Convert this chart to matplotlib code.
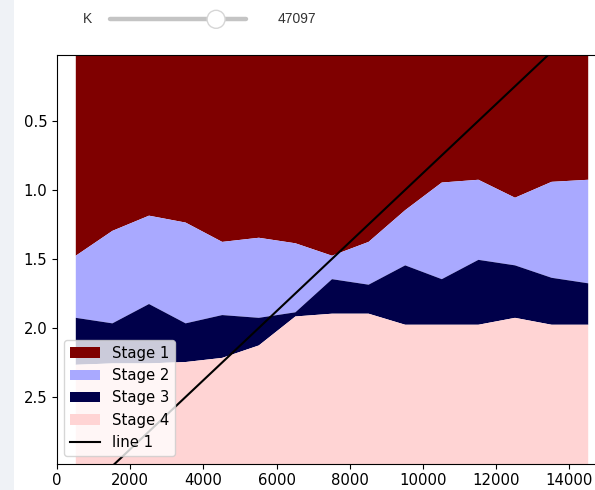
import matplotlib
matplotlib.use("Agg")
import matplotlib.pyplot as plt
from matplotlib.patches import Rectangle, Circle
from matplotlib.lines import Line2D

# Sample positions
x = [500, 1500, 2500, 3500, 4500, 5500, 6500, 7500,
     8500, 9500, 10500, 11500, 12500, 13500, 14500]

# Cumulative stage boundaries (depth axis, increasing downward)
stage1_bottom = [1.47, 1.29, 1.18, 1.23, 1.37, 1.34, 1.38, 1.47,
                 1.37, 1.14, 0.94, 0.92, 1.05, 0.935, 0.92]
stage2_bottom = [1.92, 1.96, 1.82, 1.96, 1.90, 1.92, 1.88, 1.64,
                 1.68, 1.54, 1.64, 1.50, 1.54, 1.63, 1.67]
stage3_bottom = [2.26, 2.25, 2.25, 2.24, 2.21, 2.12, 1.91, 1.89,
                 1.89, 1.97, 1.97, 1.97, 1.92, 1.97, 1.97]
depth_top = 0.0
depth_bottom = 3.0

stage_labels = ["Stage 1", "Stage 2", "Stage 3", "Stage 4"]
stage_colors = ["#7f0000", "#a9a9ff", "#00004a", "#ffd4d4"]

# Reference line
line_x = [1500, 13500]
line_y = [3.0, 0.0]

# Slider state
slider_name = "K"
slider_value = 47097
slider_fraction = 0.78

W, H = 595, 490
fig = plt.figure(figsize=(W / 100, H / 100), dpi=100)
fig.patch.set_facecolor("white")

# Light panel edge on the left
fig.patches.append(Rectangle((0, 0), 14 / W, 1, transform=fig.transFigure,
                             facecolor="#eff2f6", edgecolor="none", zorder=0))

ax = fig.add_axes([57 / W, (H - 463.7) / H, 549 / W, (463.7 - 55) / H])

bounds = [[depth_top] * len(x), stage1_bottom, stage2_bottom,
          stage3_bottom, [depth_bottom] * len(x)]
for i, (lab, col) in enumerate(zip(stage_labels, stage_colors)):
    ax.fill_between(x, bounds[i], bounds[i + 1], color=col, label=lab,
                    linewidth=0)

ax.plot(line_x, line_y, color="black", linewidth=1.5, label="line 1")

ax.set_xlim(0, 15000)
ax.set_ylim(2.98, 0.02)
ax.set_xticks([0, 2000, 4000, 6000, 8000, 10000, 12000, 14000])
ax.set_yticks([0.5, 1.0, 1.5, 2.0, 2.5])
ax.tick_params(labelsize=10.7)

ax.legend(loc="lower left", fontsize=10.7)

# Slider widget drawn above the axes
def fx(px):
    return px / W

def fy(py):
    return 1 - py / H

track_left, track_right, track_y = 110, 246, 19.3
thumb_x = track_left + slider_fraction * (track_right - track_left)
fig.text(fx(87), fy(track_y), slider_name, ha="center", va="center",
         fontsize=10, family="Liberation Sans", color="#333333")
fig.add_artist(Line2D([fx(track_left), fx(track_right)], [fy(track_y)] * 2,
                      transform=fig.transFigure, color="#c4c4c4",
                      linewidth=3.2, solid_capstyle="round", zorder=5))
fig.add_artist(Circle((thumb_x, H - track_y), 9.0,
                      transform=None, facecolor="white",
                      edgecolor="#d6d6d6", linewidth=1.0, zorder=6))
fig.text(fx(278), fy(track_y), str(slider_value), ha="left", va="center",
         fontsize=10, family="Liberation Sans", color="#333333")

fig.savefig("out.png", dpi=100)
